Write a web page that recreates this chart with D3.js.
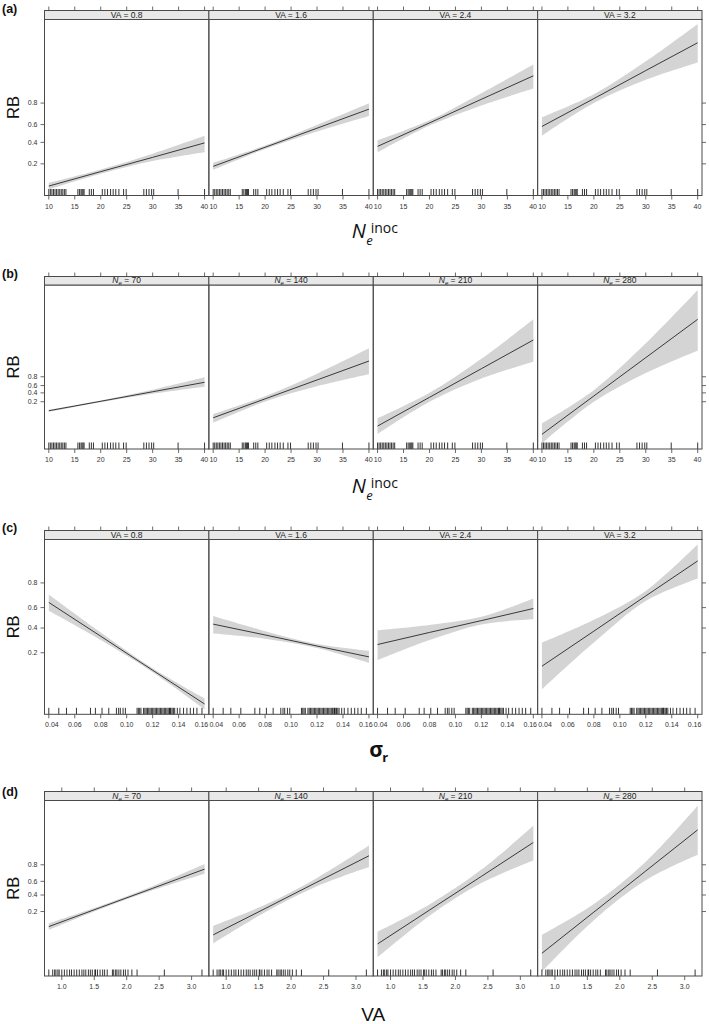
<!DOCTYPE html>
<html><head><meta charset="utf-8">
<script src="https://cdn.jsdelivr.net/npm/d3@7"></script>
<style>body{margin:0;background:#fff}</style>
</head><body>
<svg id="chart" width="709" height="1024"></svg>
<script>
// ---------------- DATA ----------------
const vaLevels = ["0.8", "1.6", "2.4", "3.2"];
const neLevels = ["70", "140", "210", "280"];
const rbTicks = [0.2, 0.4, 0.6, 0.8];

const neInocX = [10, 20, 30, 40];
const sigmaX = [0.04, 0.08, 0.12, 0.16];
const vaX = [0.8, 1.6, 2.4, 3.2];

const neInocTicks = [10, 15, 20, 25, 30, 35, 40];
const sigmaTicks = [0.04, 0.06, 0.08, 0.10, 0.12, 0.14, 0.16];
const vaTicks = [1.0, 1.5, 2.0, 2.5, 3.0];

// rug (observed x values)
const rugNeInoc = [10, 10.3, 10.6, 10.9, 11.2, 11.5, 11.8, 12.1, 12.4, 12.7, 13.0, 13.3,
  15.6, 15.9, 16.2, 16.4, 16.6, 16.8, 17.8, 18.2, 18.6, 20.3, 20.8, 21.3, 21.9, 22.4, 22.9,
  23.5, 24.4, 24.9, 28.3, 28.8, 29.3, 29.8, 30.2, 34.9, 40];
const rugSigma = [0.040, 0.0477, 0.0536, 0.0613, 0.0721, 0.0759, 0.0810, 0.0862, 0.0921,
  0.0938, 0.0951, 0.0972, 0.0990, 0.108, 0.109, 0.110, 0.111, 0.113, 0.114, 0.115, 0.116,
  0.117, 0.118, 0.119, 0.120, 0.121, 0.122, 0.123, 0.124, 0.125, 0.126, 0.127, 0.128, 0.129,
  0.130, 0.131, 0.132, 0.133, 0.1335, 0.134, 0.135, 0.136, 0.137, 0.139, 0.141, 0.1438,
  0.1464, 0.149, 0.1515, 0.1541, 0.158];
const rugVA = [0.80, 0.86, 0.89, 0.91, 0.94, 0.96, 1.00, 1.04, 1.08, 1.12, 1.15, 1.19, 1.23,
  1.27, 1.31, 1.34, 1.37, 1.41, 1.44, 1.47, 1.51, 1.52, 1.55, 1.59, 1.63, 1.66, 1.70, 1.78,
  1.80, 1.83, 1.85, 1.88, 1.91, 1.95, 1.98, 2.02, 2.08, 2.16, 2.58, 3.16];

// fitted effects on the link (logit) scale, with lower / upper confidence limits
const fitA = [[-2.40, -1.74, -1.09, -0.43], [-1.50, -0.63, 0.24, 1.11], [-0.59, 0.48, 1.56, 2.63], [0.32, 1.59, 2.87, 4.14]];
const loA  = [[-2.55, -1.84, -1.26, -0.86], [-1.66, -0.71, 0.09, 0.80], [-0.86, 0.36, 1.28, 2.05], [-0.10, 1.39, 2.45, 3.24]];
const hiA  = [[-2.25, -1.64, -0.92, -0.10], [-1.34, -0.55, 0.39, 1.38], [-0.32, 0.60, 1.84, 3.15], [0.74, 1.79, 3.29, 5.00]];

const fitB = [[-2.39, -1.34, -0.28, 0.77], [-3.17, -1.07, 1.03, 3.13], [-4.09, -0.90, 2.28, 5.47], [-5.01, -0.75, 3.51, 7.77]];
const loB  = [[-2.51, -1.44, -0.50, 0.28], [-3.72, -1.37, 0.33, 1.66], [-4.98, -1.40, 1.18, 3.06], [-6.01, -1.40, 1.80, 4.28]];
const hiB  = [[-2.27, -1.24, -0.06, 1.32], [-2.76, -0.77, 1.73, 4.54], [-3.24, -0.40, 3.38, 7.77], [-3.79, -0.10, 5.10, 11.02]];

const fitC = [[0.61, -0.73, -2.08, -3.42], [-0.25, -0.68, -1.12, -1.55], [-1.06, -0.58, -0.11, 0.37], [-1.92, -0.53, 0.87, 2.26]];
const loC  = [[0.28, -0.88, -2.16, -3.63], [-0.62, -0.83, -1.20, -1.79], [-1.68, -0.88, -0.26, -0.06], [-2.84, -0.98, 0.67, 1.56]];
const hiC  = [[0.93, -0.58, -2.00, -3.20], [0.07, -0.53, -1.04, -1.31], [-0.49, -0.28, 0.04, 0.77], [-0.99, -0.08, 1.07, 2.92]];

const fitD = [[-2.28, -1.14, -0.01, 1.13], [-2.77, -1.21, 0.36, 1.92], [-3.31, -1.30, 0.70, 2.71], [-3.86, -1.42, 1.02, 3.46]];
const loD  = [[-2.48, -1.24, -0.13, 0.85], [-3.27, -1.43, 0.11, 1.25], [-4.10, -1.63, 0.30, 1.64], [-4.95, -1.90, 0.47, 1.98]];
const hiD  = [[-2.08, -1.04, 0.11, 1.43], [-2.24, -0.99, 0.61, 2.53], [-2.58, -0.97, 1.10, 3.70], [-2.77, -0.94, 1.57, 4.89]];

// y-axis limits on the logit scale per row
const etaLimA = [-2.83, 5.2];
const etaLimB = [-6.64, 11.58];
const etaLimC = [-3.83, 3.11];
const etaLimD = [-5.21, 5.2];

// ---------------- LAYOUT ----------------
const svg = d3.select("#chart");
const L = 44.5, R = 702, PW = (R - L) / 4, XPAD = 4.3;
const logit = p => Math.log(p / (1 - p));
const FONT = "'Liberation Sans', Arial, sans-serif";

const rows = [
  {tag: "(a)", tagY: 12.5, strip: 10.5, top: 19.5, bottom: 195.5, kind: "va", xs: neInocX, ticks: neInocTicks, rug: rugNeInoc, fit: fitA, lo: loA, hi: hiA, lim: etaLimA, fmt: d3.format("d"), title: "ne", titleY: 238},
  {tag: "(b)", tagY: 277.5, strip: 276.5, top: 285, bottom: 449, kind: "ne", xs: neInocX, ticks: neInocTicks, rug: rugNeInoc, fit: fitB, lo: loB, hi: hiB, lim: etaLimB, fmt: d3.format("d"), title: "ne", titleY: 493},
  {tag: "(c)", tagY: 532, strip: 530.5, top: 539.5, bottom: 714.3, kind: "va", xs: sigmaX, ticks: sigmaTicks, rug: rugSigma, fit: fitC, lo: loC, hi: hiC, lim: etaLimC, fmt: d3.format(".2f"), title: "sigma", titleY: 757},
  {tag: "(d)", tagY: 795.5, strip: 791.5, top: 800.5, bottom: 976, kind: "ne", xs: vaX, ticks: vaTicks, rug: rugVA, fit: fitD, lo: loD, hi: hiD, lim: etaLimD, fmt: d3.format(".1f"), title: "va", titleY: 1021}
];

const defs = svg.append("defs");

rows.forEach((row, ri) => {
  const g = svg.append("g");
  const y = d3.scaleLinear().domain(row.lim).range([row.bottom, row.top]);

  // panel tag
  g.append("text").attr("x", 2).attr("y", row.tagY).text(row.tag)
    .attr("font-family", FONT).attr("font-weight", "bold").attr("font-size", 12.5).attr("fill", "#111");

  // RB label
  const cy = (row.top + row.bottom) / 2;
  g.append("text").attr("transform", `translate(18.5,${cy}) rotate(-90)`)
    .attr("text-anchor", "middle").attr("font-family", FONT).attr("font-size", 16.5)
    .attr("fill", "#111").text("RB");

  // y ticks left (first panel) and right (last panel)
  rbTicks.forEach(p => {
    const yy = y(logit(p));
    g.append("line").attr("x1", L - 4).attr("x2", L).attr("y1", yy).attr("y2", yy).attr("stroke", "#444").attr("stroke-width", 0.8);
    g.append("line").attr("x1", R).attr("x2", R + 4).attr("y1", yy).attr("y2", yy).attr("stroke", "#444").attr("stroke-width", 0.8);
    g.append("text").attr("x", L - 7).attr("y", yy + 2.4).attr("text-anchor", "end")
      .attr("font-family", FONT).attr("font-size", 7).attr("fill", "#333").text(d3.format(".1f")(p));
  });

  for (let k = 0; k < 4; k++) {
    const x0 = L + k * PW, x1 = x0 + PW;
    const x = d3.scaleLinear().domain(d3.extent(row.xs)).range([x0 + XPAD, x1 - XPAD]);
    const clipId = `clip${ri}_${k}`;
    defs.append("clipPath").attr("id", clipId).append("rect")
      .attr("x", x0).attr("y", row.top).attr("width", PW).attr("height", row.bottom - row.top);

    const pts = row.xs.map((xv, i) => ({x: xv, f: row.fit[k][i], lo: row.lo[k][i], hi: row.hi[k][i]}));
    const pg = g.append("g").attr("clip-path", `url(#${clipId})`);
    pg.append("path").datum(pts)
      .attr("d", d3.area().x(d => x(d.x)).y0(d => y(d.lo)).y1(d => y(d.hi)).curve(d3.curveCatmullRom))
      .attr("fill", "#d4d4d4").attr("stroke", "none");
    pg.append("path").datum(pts)
      .attr("d", d3.line().x(d => x(d.x)).y(d => y(d.f)))
      .attr("fill", "none").attr("stroke", "#111").attr("stroke-width", 0.8);

    // rug
    g.selectAll(null).data(row.rug).enter().append("line")
      .attr("x1", d => x(d)).attr("x2", d => x(d))
      .attr("y1", row.bottom - 6.5).attr("y2", row.bottom)
      .attr("stroke", "#000").attr("stroke-width", 0.8);

    // panel border
    g.append("rect").attr("x", x0).attr("y", row.top).attr("width", PW).attr("height", row.bottom - row.top)
      .attr("fill", "none").attr("stroke", "#4a4a4a").attr("stroke-width", 1);

    // strip
    g.append("rect").attr("x", x0).attr("y", row.strip).attr("width", PW).attr("height", row.top - row.strip)
      .attr("fill", "#e8e8e8").attr("stroke", "#4a4a4a").attr("stroke-width", 1);
    const st = g.append("text").attr("x", (x0 + x1) / 2).attr("y", row.top - 1.8).attr("text-anchor", "middle")
      .attr("font-family", FONT).attr("font-size", 8.5).attr("fill", "#222");
    if (row.kind === "va") {
      st.text(`VA = ${vaLevels[k]}`);
    } else {
      st.append("tspan").attr("font-style", "italic").text("N");
      st.append("tspan").attr("font-style", "italic").attr("font-size", 6).attr("dy", 1.8).text("e");
      st.append("tspan").attr("dy", -1.8).text(` = ${neLevels[k]}`);
    }

    // x ticks bottom & top
    row.ticks.forEach(t => {
      const xx = x(t);
      g.append("line").attr("x1", xx).attr("x2", xx).attr("y1", row.bottom).attr("y2", row.bottom + 4).attr("stroke", "#444").attr("stroke-width", 0.8);
      g.append("line").attr("x1", xx).attr("x2", xx).attr("y1", row.strip - 4).attr("y2", row.strip).attr("stroke", "#444").attr("stroke-width", 0.8);
      const lab = g.append("text").attr("x", xx).attr("y", row.bottom + 13).attr("text-anchor", "middle")
        .attr("font-family", FONT).attr("font-size", 7).attr("fill", "#333").text(row.fmt(t));
      const w = lab.node().getComputedTextLength();
      const cxl = Math.max(x0 + w / 2 + 0.6, Math.min(x1 - w / 2 - 0.6, xx));
      lab.attr("x", cxl);
    });
  }

  // x-axis title
  const cx = (L + R) / 2;
  const TF = "'Open Sans', 'Noto Sans', sans-serif";
  if (row.title === "ne") {
    g.append("text").attr("x", cx - 21.5).attr("y", row.titleY).attr("font-family", TF)
      .attr("font-style", "italic").attr("font-size", 20).attr("fill", "#111").text("N");
    g.append("text").attr("x", cx - 7).attr("y", row.titleY + 7).attr("font-family", TF)
      .attr("font-style", "italic").attr("font-size", 13).attr("fill", "#111").text("e");
    g.append("text").attr("x", cx - 2.5).attr("y", row.titleY - 5).attr("font-family", TF)
      .attr("font-size", 14).attr("fill", "#111").text("inoc");
  } else if (row.title === "sigma") {
    g.append("text").attr("x", cx - 4).attr("y", row.titleY).attr("font-family", TF)
      .attr("font-weight", "bold").attr("font-size", 21).attr("fill", "#111").text("σ");
    g.append("text").attr("x", cx + 9).attr("y", row.titleY + 5).attr("font-family", TF)
      .attr("font-weight", "bold").attr("font-size", 13).attr("fill", "#111").text("r");
  } else {
    g.append("text").attr("x", cx).attr("y", row.titleY).attr("text-anchor", "middle").attr("font-family", FONT)
      .attr("font-size", 19).attr("fill", "#111").text("VA");
  }
});
</script>
</body></html>
